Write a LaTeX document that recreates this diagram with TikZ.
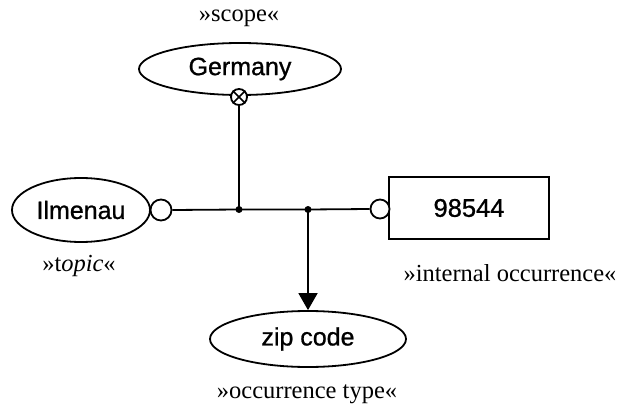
\documentclass[tikz,border=0pt]{standalone}
\usepackage{fontspec}
\setmainfont{Liberation Serif}
\setsansfont{Liberation Sans}
\newfontfamily\namefont[FakeBold=0.9]{Liberation Sans}
\usetikzlibrary{shapes.geometric,arrows.meta}

\tikzset{
  topicshape/.style={ellipse, draw, line width=1.8pt, inner sep=0pt,
    font=\namefont\fontsize{25}{29}\selectfont},
  occbox/.style={rectangle, draw, line width=1.8pt, inner sep=0pt,
    font=\namefont\fontsize{25.5}{29}\selectfont},
  rolelabel/.style={font=\fontsize{24.5}{28}\selectfont, inner sep=0pt},
  port/.style={circle, draw, line width=1.8pt, fill=white, inner sep=0pt},
  joint/.style={circle, fill=black, inner sep=0pt, minimum size=7pt},
  wire/.style={line width=1.8pt},
}

\begin{document}
\begin{tikzpicture}[x=1pt, y=-1pt]
  \useasboundingbox (0,0) rectangle (621,409);

  % scope topic with its crossed connector point
  \node[rolelabel] (scopelbl) at (239,18) {»scope«};
  \node[topicshape, minimum width=202pt, minimum height=52pt] (germany) at (240,69) {Germany};

  % topic on the left
  \node[topicshape, minimum width=138pt, minimum height=64pt] (ilmenau) at (81,210) {Ilmenau};
  \node[rolelabel] (topiclbl) at (79,266) {»t\textit{opic}«};

  % occurrence value on the right
  \node[occbox, minimum width=160pt, minimum height=62pt] (value) at (469,208) {98544};
  \node[rolelabel] (occlbl) at (510,273) {»internal occurrence«};

  % occurrence type below
  \node[topicshape, minimum width=196pt, minimum height=56pt] (zip) at (308,339) {zip code};
  \node[rolelabel] (typelbl) at (307,394) {»occurrence type«};

  % association line
  \node[port, minimum size=21pt] (pl) at (161,210) {};
  \node[port, minimum size=19pt] (pr) at (380,209) {};
  \node[joint] (j1) at (239,209.5) {};
  \node[joint] (j2) at (308,209.5) {};
  \draw[wire] (pl.east) -- (j1.center) -- (j2.center) -- (pr.west);

  % scope link with crossed circle
  \node[port, minimum size=16pt] (sx) at (239,97) {};
  \draw[line width=1.7pt] (sx.north west) -- (sx.south east)
                          (sx.north east) -- (sx.south west);
  \draw[wire] (sx.south) -- (j1.center);

  % type link
  \draw[wire, -{Triangle[length=17pt,width=19pt]}] (j2.center) -- (zip.north);
\end{tikzpicture}
\end{document}
